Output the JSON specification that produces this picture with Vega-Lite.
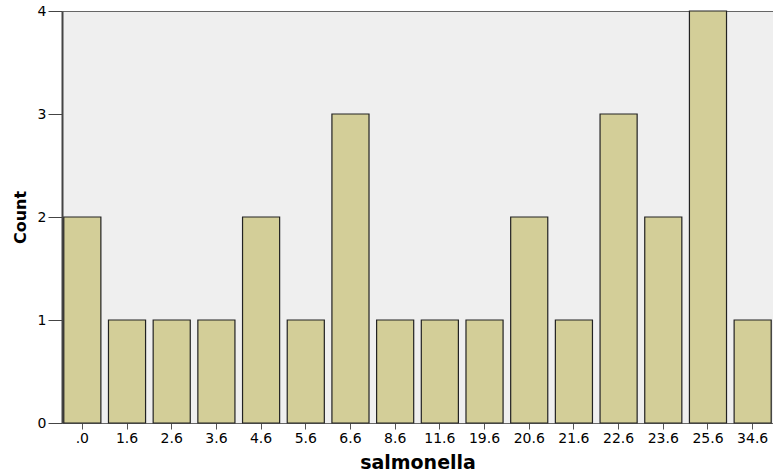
{
  "$schema": "https://vega.github.io/schema/vega-lite/v6.json",
  "width": 711,
  "height": 412,
  "autosize": {"type": "none"},
  "padding": {"left": 62, "top": 11, "right": 0, "bottom": 51},
  "background": "white",
  "config": {
    "view": {"fill": "#efefef", "stroke": "#666666", "strokeWidth": 1},
    "font": "DejaVu Sans"
  },
  "data": {
    "values": [
      {"salmonella": ".0", "count": 2},
      {"salmonella": "1.6", "count": 1},
      {"salmonella": "2.6", "count": 1},
      {"salmonella": "3.6", "count": 1},
      {"salmonella": "4.6", "count": 2},
      {"salmonella": "5.6", "count": 1},
      {"salmonella": "6.6", "count": 3},
      {"salmonella": "8.6", "count": 1},
      {"salmonella": "11.6", "count": 1},
      {"salmonella": "19.6", "count": 1},
      {"salmonella": "20.6", "count": 2},
      {"salmonella": "21.6", "count": 1},
      {"salmonella": "22.6", "count": 3},
      {"salmonella": "23.6", "count": 2},
      {"salmonella": "25.6", "count": 4},
      {"salmonella": "34.6", "count": 1}
    ]
  },
  "mark": {"type": "bar", "fill": "#d3ce98", "stroke": "#222222", "strokeWidth": 1.2},
  "encoding": {
    "x": {
      "field": "salmonella",
      "type": "ordinal",
      "sort": null,
      "scale": {"paddingInner": 0.17, "paddingOuter": 0.04},
      "axis": {
        "title": "salmonella",
        "titleFont": "DejaVu Sans",
        "titleFontSize": 19,
        "titleFontWeight": "bold",
        "titleColor": "#000000",
        "titlePadding": 8,
        "labelAngle": 0,
        "labelFont": "DejaVu Sans",
        "labelFontSize": 14,
        "labelColor": "#000000",
        "labelPadding": 2,
        "tickSize": 6,
        "tickColor": "#555555",
        "domain": false
      }
    },
    "y": {
      "field": "count",
      "type": "quantitative",
      "scale": {"domain": [0, 4], "nice": false},
      "axis": {
        "title": "Count",
        "titleFont": "DejaVu Sans",
        "titleFontSize": 16,
        "titleFontWeight": "bold",
        "titleColor": "#000000",
        "titlePadding": 9,
        "values": [0, 1, 2, 3, 4],
        "format": "d",
        "labelFont": "DejaVu Sans",
        "labelFontSize": 14,
        "labelColor": "#000000",
        "labelPadding": 2,
        "tickSize": 14,
        "tickColor": "#444444",
        "domainColor": "#444444",
        "domainWidth": 2,
        "grid": false
      }
    }
  }
}
